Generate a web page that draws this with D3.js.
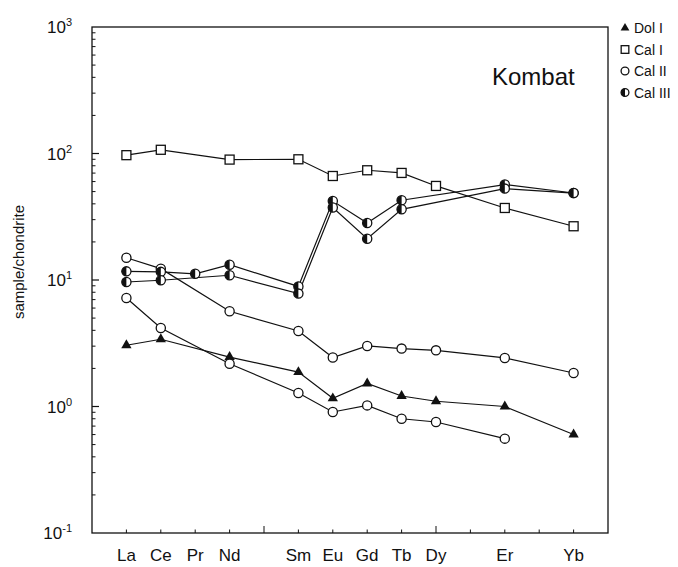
<!DOCTYPE html>
<html>
<head>
<meta charset="utf-8">
<script src="https://cdn.jsdelivr.net/npm/d3@7"></script>
<style>
  html, body { margin: 0; padding: 0; background: #fff; }
  svg { display: block; font-family: "Liberation Sans", Arial, sans-serif; }
</style>
</head>
<body>
<svg id="chart" width="678" height="567"></svg>
<script>
// REE elements and their atomic numbers (x positions follow atomic number)
const elements = ["La", "Ce", "Pr", "Nd", "Sm", "Eu", "Gd", "Tb", "Dy", "Er", "Yb"];
const atomicNumbers = [57, 58, 59, 60, 62, 63, 64, 65, 66, 68, 70];

// Chondrite-normalised concentrations (null = not analysed)
const dolI   = [3.05, 3.40, null, 2.46, 1.87, 1.16, 1.52, 1.21, 1.10, 1.00, 0.60];
const calI   = [97, 107, null, 89.5, 90, 66.4, 73.7, 70.2, 55.4, 37.1, 26.6];
const calIIa = [15.0, 12.3, null, 5.66, 3.95, 2.44, 3.01, 2.87, 2.78, 2.42, 1.84];
const calIIb = [7.21, 4.17, null, 2.18, 1.28, 0.905, 1.02, 0.80, 0.754, 0.557, null];
const calIIIa = [11.7, 11.6, 11.2, 13.2, 8.9, 42.1, 28.2, 42.7, null, 56.8, 48.7];
const calIIIb = [9.64, 9.95, null, 10.9, 7.81, 37.4, 21.2, 36.2, null, 52.8, 48.7];

// Axis ticks
const yDecades = [0.1, 1, 10, 100, 1000];
const yDecadeExponents = ["-1", "0", "1", "2", "3"];
const xTickNumbers = [57, 58, 59, 60, 61, 62, 63, 64, 65, 66, 67, 68, 69, 70];
const xMajorTicks = [61, 66];

const legendLabels = ["Dol I", "Cal I", "Cal II", "Cal III"];
const legendKinds = ["triangle", "square", "circle", "half"];
const titleText = "Kombat";
const yAxisTitle = "sample/chondrite";

const series = [
  { values: dolI, kind: "triangle" },
  { values: calI, kind: "square" },
  { values: calIIa, kind: "circle" },
  { values: calIIb, kind: "circle" },
  { values: calIIIa, kind: "half" },
  { values: calIIIb, kind: "half" }
];

const svg = d3.select("#chart");
const plot = { left: 92, right: 608, top: 27, bottom: 533 };

const x = d3.scaleLinear().domain([56, 71]).range([plot.left, plot.right]);
const y = d3.scaleLog().domain([0.1, 1000]).range([plot.bottom, plot.top]);

// Frame
svg.append("rect")
  .attr("x", plot.left).attr("y", plot.top)
  .attr("width", plot.right - plot.left).attr("height", plot.bottom - plot.top)
  .attr("fill", "none").attr("stroke", "#111").attr("stroke-width", 1.3);

// Left axis: inward ticks, major at decades, minor at 2..9
const minorTicks = [];
for (let d = 0.1; d < 1000; d *= 10) {
  for (let k = 2; k <= 9; k++) minorTicks.push(d * k);
}
svg.append("g").selectAll("line.minor").data(minorTicks).join("line")
  .attr("x1", plot.left).attr("x2", plot.left + 3.5)
  .attr("y1", d => y(d)).attr("y2", d => y(d))
  .attr("stroke", "#111").attr("stroke-width", 1);
svg.append("g").selectAll("line.major").data(yDecades.slice(1, -1)).join("line")
  .attr("x1", plot.left).attr("x2", plot.left + 7)
  .attr("y1", d => y(d)).attr("y2", d => y(d))
  .attr("stroke", "#111").attr("stroke-width", 1.2);

// Decade labels 10^n
const yLabels = svg.append("g").selectAll("text").data(yDecades).join("text")
  .attr("x", 72).attr("y", d => y(d) + 6)
  .attr("text-anchor", "end")
  .attr("font-size", 17).attr("fill", "#111");
yLabels.append("tspan").text("10");
yLabels.append("tspan")
  .attr("dy", -7).attr("font-size", 11)
  .text((d, i) => yDecadeExponents[i]);

// Bottom axis: inward ticks at every atomic number
svg.append("g").selectAll("line").data(xTickNumbers).join("line")
  .attr("x1", d => x(d)).attr("x2", d => x(d))
  .attr("y1", plot.bottom).attr("y2", d => plot.bottom - (xMajorTicks.includes(d) ? 7 : 3.5))
  .attr("stroke", "#111").attr("stroke-width", 1);

svg.append("g").selectAll("text").data(elements).join("text")
  .attr("x", (d, i) => x(atomicNumbers[i]))
  .attr("y", 561)
  .attr("text-anchor", "middle")
  .attr("font-size", 17).attr("fill", "#111")
  .text(d => d);

// Y axis title
svg.append("text")
  .attr("transform", "translate(24,262) rotate(-90)")
  .attr("text-anchor", "middle")
  .attr("font-size", 15).attr("fill", "#111")
  .text(yAxisTitle);

// Locality title
svg.append("text")
  .attr("x", 492).attr("y", 85)
  .attr("font-size", 24).attr("fill", "#111")
  .text(titleText);

// Marker drawing helper
function drawMarker(g, kind, cx, cy, scale = 1) {
  if (kind === "triangle") {
    g.append("path")
      .attr("d", d3.symbol().type(d3.symbolTriangle).size(46 * scale * scale)())
      .attr("transform", `translate(${cx},${cy})`)
      .attr("fill", "#111");
  } else if (kind === "square") {
    const h = 4.5 * scale;
    g.append("rect")
      .attr("x", cx - h).attr("y", cy - h)
      .attr("width", 2 * h).attr("height", 2 * h)
      .attr("fill", "#fff").attr("stroke", "#111").attr("stroke-width", 1.3);
  } else if (kind === "circle") {
    g.append("circle")
      .attr("cx", cx).attr("cy", cy).attr("r", 4.6 * scale)
      .attr("fill", "#fff").attr("stroke", "#111").attr("stroke-width", 1.3);
  } else {
    const r = 4.6 * scale;
    g.append("circle")
      .attr("cx", cx).attr("cy", cy).attr("r", r)
      .attr("fill", "#fff").attr("stroke", "#111").attr("stroke-width", 1.3);
    g.append("path")
      .attr("d", `M${cx},${cy - r} A${r},${r} 0 0 0 ${cx},${cy + r} Z`)
      .attr("fill", "#111");
  }
}

const line = d3.line().x(d => x(d.z)).y(d => y(d.v));

const linesG = svg.append("g");
const marksG = svg.append("g");
series.forEach(s => {
  const pts = s.values
    .map((v, i) => ({ z: atomicNumbers[i], v }))
    .filter(d => d.v != null);
  linesG.append("path")
    .attr("d", line(pts))
    .attr("fill", "none").attr("stroke", "#111").attr("stroke-width", 1.2);
  pts.forEach(d => drawMarker(marksG, s.kind, x(d.z), y(d.v)));
});

// Legend
const legendG = svg.append("g");
legendLabels.forEach((label, i) => {
  const ly = 28 + i * 21.5;
  drawMarker(legendG, legendKinds[i], 625, ly, 0.85);
  legendG.append("text")
    .attr("x", 634).attr("y", ly + 5)
    .attr("font-size", 14).attr("fill", "#111")
    .text(label);
});
</script>
</body>
</html>
